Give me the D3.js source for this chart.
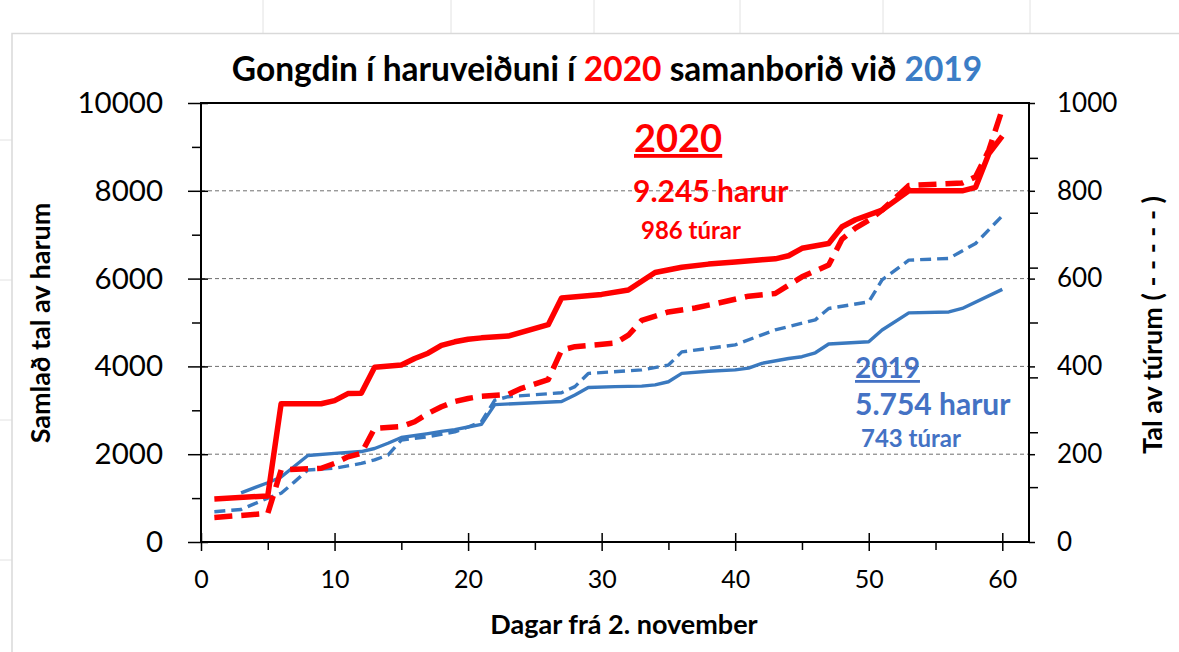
<!DOCTYPE html>
<html>
<head>
<meta charset="utf-8">
<script src="https://cdn.jsdelivr.net/npm/d3@7"></script>
<style>
  body { margin: 0; background: #fff; }
  text { font-family: Lato, "Liberation Sans", Arial, sans-serif; }
</style>
</head>
<body>
<script>
// Data (days from 2. november)
var hares2020Days = [1, 5, 6, 9, 10, 11, 12, 13, 15, 16, 17, 18, 19, 20, 21, 23, 26, 27, 30, 32,
                     34, 36, 38, 40, 42, 43, 44, 45, 47, 48, 49, 51, 53, 57, 58, 59, 60];
var hares2020 = [980, 1050, 3150, 3150, 3220, 3380, 3390, 3980, 4030, 4180, 4300, 4480, 4560, 4620, 4650,
                 4690, 4950, 5560, 5640, 5740, 6140, 6260, 6330, 6380, 6430, 6450, 6520, 6690, 6800,
                 7180, 7340, 7560, 8000, 8000, 8080, 8850, 9245];

var trips2020Days = [1, 5, 6, 9, 10, 11, 12, 13, 15, 16, 17, 18, 19, 20, 21, 23, 24, 26, 27, 28,
                     31, 32, 33, 35, 37, 39, 41, 43, 45, 47, 48, 49, 50, 51, 53, 57, 58, 59, 60];
var trips2020 = [56, 65, 164, 168, 179, 194, 202, 259, 263, 274, 293, 308, 320, 327, 332, 336, 350,
                 370, 437, 445, 453, 471, 505, 524, 533, 546, 560, 566, 604, 631, 690, 715, 733,
                 756, 812, 818, 832, 893, 986];

var hares2019Days = [3, 5, 6, 8, 10, 12, 13, 14, 15, 17, 18, 19, 20, 21, 22, 27, 28, 29, 31, 33,
                     34, 35, 36, 38, 40, 41, 42, 44, 45, 46, 47, 50, 51, 53, 56, 57, 60];
var hares2019 = [1120, 1350, 1480, 1970, 2020, 2060, 2130, 2250, 2380, 2470, 2520, 2560, 2620, 2680,
                 3130, 3200, 3350, 3520, 3540, 3550, 3580, 3650, 3840, 3890, 3920, 3960, 4070, 4180,
                 4220, 4310, 4510, 4560, 4830, 5220, 5240, 5320, 5754];

var trips2019Days = [1, 3, 5, 6, 7, 8, 10, 12, 13, 14, 15, 17, 19, 20, 21, 22, 23, 27, 28, 29,
                     33, 35, 36, 40, 42, 43, 46, 47, 50, 51, 53, 56, 58, 60];
var trips2019 = [69, 74, 100, 111, 137, 164, 168, 179, 187, 198, 232, 240, 251, 262, 274, 323, 331,
                 340, 354, 384, 392, 403, 433, 449, 472, 483, 506, 532, 547, 597, 642, 646, 680, 743];

// tick values
var xTicks = [0, 10, 20, 30, 40, 50, 60];
var xMinorTicks = [5, 15, 25, 35, 45, 55];
var leftTicks = [0, 2000, 4000, 6000, 8000, 10000];
var leftMinorTicks = [1000, 3000, 5000, 7000, 9000];
var rightTicks = [0, 200, 400, 600, 800, 1000];
var rightMinorTicks = [125, 250, 375, 500, 625, 750, 875];
var gridValues = [2000, 4000, 6000, 8000];

var red = "#ff0000", blue = "#3a79bf", blueText = "#4472c4";
var plain = d3.format("d");

var svg = d3.select("body").append("svg")
    .attr("width", 1179).attr("height", 652);

// sheet background lines (excel cell grid outside the chart)
var sheet = svg.append("g").attr("stroke", "#e2e2e2").attr("stroke-width", 1);
[263, 451, 594, 740, 883, 1030].forEach(function (gx) {
  sheet.append("line").attr("x1", gx).attr("x2", gx).attr("y1", 0).attr("y2", 33);
});
[140, 280, 420, 560].forEach(function (gy) {
  sheet.append("line").attr("x1", 0).attr("x2", 12).attr("y1", gy).attr("y2", gy);
});
svg.append("path").attr("d", "M12,652V33.5H1179")
    .attr("fill", "none").attr("stroke", "#d9d9d9").attr("stroke-width", 1.5);

var x = d3.scaleLinear().domain([0, 62]).range([201, 1029]);
var yL = d3.scaleLinear().domain([0, 10000]).range([542, 103]);
var yR = d3.scaleLinear().domain([0, 1000]).range([542, 103]);

// dashed gridlines
svg.append("g").selectAll("line")
    .data(gridValues)
    .enter().append("line")
    .attr("x1", 201).attr("x2", 1029)
    .attr("y1", yL).attr("y2", yL)
    .attr("stroke", "#6f6f6f").attr("stroke-width", 1)
    .attr("stroke-dasharray", "4,3");

function styleAxis(g, size) {
  g.select(".domain").remove();
  g.selectAll("line").attr("stroke", "#000").attr("stroke-width", 1.5);
  g.selectAll("text").attr("fill", "#000").attr("font-size", size);
}

// left axis (hares)
svg.append("g").attr("transform", "translate(201,0)")
    .call(d3.axisLeft(yL).tickValues(leftTicks).tickFormat(plain).tickSize(13).tickPadding(25))
    .call(styleAxis, 29.5)
    .selectAll(".tick line").attr("x1", 7);
svg.append("g").attr("transform", "translate(201,0)")
    .call(d3.axisLeft(yL).tickValues(leftMinorTicks).tickSize(9).tickFormat(""))
    .call(styleAxis, 0);

// right axis (trips)
svg.append("g").attr("transform", "translate(1029,0)")
    .call(d3.axisRight(yR).tickValues(rightTicks).tickFormat(plain).tickSize(6).tickPadding(22))
    .call(styleAxis, 26);
svg.append("g").attr("transform", "translate(1029,0)")
    .call(d3.axisRight(yR).tickValues(rightMinorTicks).tickSize(9).tickFormat(""))
    .call(styleAxis, 0);

// bottom axis (days)
svg.append("g").attr("transform", "translate(0,542)")
    .call(d3.axisBottom(x).tickValues(xTicks).tickFormat(plain).tickSize(9).tickPadding(19))
    .call(styleAxis, 25)
    .selectAll(".tick line").attr("y1", -9);
svg.append("g").attr("transform", "translate(0,542)")
    .call(d3.axisBottom(x).tickValues(xMinorTicks).tickSize(8).tickFormat(""))
    .call(styleAxis, 0);

// plot frame
svg.append("rect")
    .attr("x", 201).attr("y", 103)
    .attr("width", 1029 - 201).attr("height", 542 - 103)
    .attr("fill", "none").attr("stroke", "#000").attr("stroke-width", 2);

// series
function drawLine(days, values, yScale, color, width, dash) {
  var line = d3.line()
      .x(function (d) { return x(d[0]); })
      .y(function (d) { return yScale(d[1]); });
  svg.append("path")
      .datum(d3.zip(days, values))
      .attr("d", line)
      .attr("fill", "none")
      .attr("stroke", color)
      .attr("stroke-width", width)
      .attr("stroke-linejoin", "round")
      .attr("stroke-dasharray", dash);
}

drawLine(hares2019Days, hares2019, yL, blue, 3.4, null);
drawLine(trips2019Days, trips2019, yR, blue, 3.4, "11,6");
drawLine(trips2020Days, trips2020, yR, red, 5.5, "18,9");
drawLine(hares2020Days, hares2020, yL, red, 5.5, null);

// title
var title = svg.append("text")
    .attr("x", 607).attr("y", 81)
    .attr("text-anchor", "middle")
    .attr("font-size", 33.5).attr("font-weight", "bold").attr("fill", "#000");
title.append("tspan").text("Gongdin í haruveiðuni í ");
title.append("tspan").attr("fill", red).text("2020");
title.append("tspan").text(" samanborið við ");
title.append("tspan").attr("fill", "#3b7dc6").text("2019");

// axis titles
svg.append("text")
    .attr("transform", "translate(50,323) rotate(-90)")
    .attr("text-anchor", "middle")
    .attr("font-size", 27).attr("font-weight", "bold")
    .text("Samlað tal av harum");
svg.append("text")
    .attr("transform", "translate(1162,325) rotate(-90)")
    .attr("text-anchor", "middle")
    .attr("font-size", 27).attr("font-weight", "bold")
    .text("Tal av túrum ( - - - - - )");
svg.append("text")
    .attr("x", 624).attr("y", 634)
    .attr("text-anchor", "middle")
    .attr("font-size", 27).attr("font-weight", "bold")
    .text("Dagar frá 2. november");

// annotations
function note(tx, ty, size, color, str, underline) {
  svg.append("text")
      .attr("x", tx).attr("y", ty)
      .attr("font-size", size).attr("font-weight", "bold")
      .attr("fill", color)
      .attr("text-decoration", underline ? "underline" : null)
      .text(str);
}
note(634, 152, 38, red, "2020", true);
note(633, 202, 30, red, "9.245 harur");
note(641, 239, 24, red, "986 túrar");
note(855, 378, 28, blueText, "2019", true);
note(855, 415, 30, blueText, "5.754 harur");
note(861, 447, 24, blueText, "743 túrar");
</script>
</body>
</html>
